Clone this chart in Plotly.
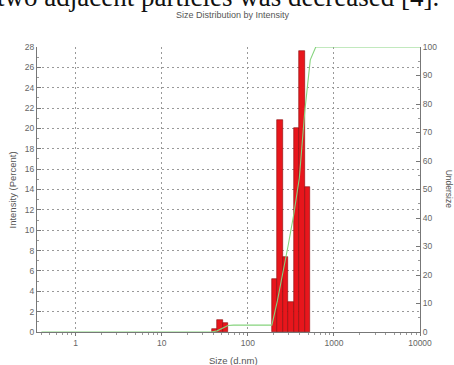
import numpy as np
import plotly.graph_objects as go

# Size classes (d.nm), 70 log-spaced classes as used by the instrument
size_bins = [0.4, 0.4632, 0.5365, 0.6213, 0.7195, 0.8332, 0.9649, 1.117, 1.294, 1.499,
             1.736, 2.01, 2.328, 2.696, 3.122, 3.615, 4.187, 4.849, 5.615, 6.503,
             7.531, 8.721, 10.1, 11.7, 13.54, 15.69, 18.17, 21.04, 24.36, 28.21,
             32.67, 37.84, 43.82, 50.75, 58.77, 68.06, 78.82, 91.28, 105.7, 122.4,
             141.8, 164.2, 190.1, 220.2, 255.0, 295.3, 342.0, 396.1, 458.7, 531.2,
             615.1, 712.4, 825.0, 955.4, 1106, 1281, 1484, 1718, 1990, 2305,
             2669, 3091, 3580, 4145, 4801, 5560, 6439, 7456, 8635, 10000]

# Intensity (Percent) per size class
intensity = [0] * 31 + [0.25, 1.2, 0.9] + [0] * 8 + \
            [5.2, 20.8, 7.4, 2.9, 20.0, 27.6, 14.2] + [0] * 21

# Undersize (cumulative %) per size class
undersize = [0] * 32 + [0.4, 1.4, 2.3] + [2.4] * 8 + \
            [10.9, 20.5, 30.7, 41.4, 54.0, 77.5, 95.5] + [100] * 20

y_ticks = list(range(0, 29, 2))
y2_ticks = list(range(0, 101, 10))
x_ticks = [1, 10, 100, 1000, 10000]
x_ticklabels = ["1", "10", "100", "1000", "10000"]

sizes = np.array(size_bins)
inten = np.array(intensity, dtype=float)
widths = np.append(np.diff(sizes), 0)
mask = inten > 0

fig = go.Figure()
fig.add_trace(go.Bar(
    x=sizes[mask], y=inten[mask], width=widths[mask], offset=0,
    marker=dict(color="#e8161c", line=dict(color="#8a0a0a", width=0.6)),
    showlegend=False,
))
fig.add_trace(go.Scatter(
    x=size_bins, y=undersize, yaxis="y2", mode="lines",
    line=dict(color="#86d47e", width=1.1), showlegend=False,
))

minor_x = [d * 10 ** e for e in range(-1, 4) for d in range(2, 10)
           if 0.35 < d * 10 ** e < 10000]

tick_font = dict(family="Liberation Sans, Arial, sans-serif", size=8.5, color="#666")
grid_dash = "2px,3px"

fig.update_layout(
    width=454, height=365,
    margin=dict(l=37, r=34, t=47, b=33),
    paper_bgcolor="white", plot_bgcolor="white",
    bargap=0,
    font=tick_font,
    xaxis=dict(
        type="log", range=[-0.45, 4.0],
        tickvals=x_ticks, ticktext=x_ticklabels,
        showgrid=True, gridcolor="#999", griddash=grid_dash, gridwidth=1,
        showline=True, linecolor="#777", linewidth=1,
        ticks="outside", ticklen=3, tickcolor="#777",
        minor=dict(tickvals=minor_x, ticks="outside", ticklen=2, tickcolor="#999", showgrid=False),
        zeroline=False, tickfont=tick_font,
    ),
    yaxis=dict(
        range=[0, 28], tickvals=y_ticks,
        showgrid=True, gridcolor="#999", griddash=grid_dash, gridwidth=1,
        showline=True, linecolor="#777", linewidth=1,
        ticks="inside", ticklen=4, tickcolor="#777",
        minor=dict(dtick=1, ticks="inside", ticklen=2, tickcolor="#999", showgrid=False),
        zeroline=False, tickfont=tick_font,
    ),
    yaxis2=dict(
        range=[0, 100], tickvals=y2_ticks, overlaying="y", side="right",
        showgrid=False, showline=True, linecolor="#777", linewidth=1,
        ticks="inside", ticklen=4, tickcolor="#777",
        minor=dict(dtick=5, ticks="inside", ticklen=2, tickcolor="#999"),
        zeroline=False, tickfont=tick_font,
    ),
    annotations=[
        dict(text="two adjacent particles was decreased [4].", xref="paper", yref="paper",
             x=0.4726, y=1.115, xanchor="center", yanchor="bottom", showarrow=False,
             font=dict(family="Liberation Serif, Times New Roman, serif", size=27, color="#111")),
        dict(text="Size Distribution by Intensity", xref="paper", yref="paper",
             x=0.512, y=1.111, xanchor="center", yanchor="middle", showarrow=False,
             font=dict(size=9, color="#555")),
        dict(text="Intensity (Percent)", xref="paper", yref="paper",
             x=-0.0627, y=0.5, textangle=-90, xanchor="center", yanchor="middle",
             showarrow=False, font=dict(size=9.5, color="#555")),
        dict(text="Undersize", xref="paper", yref="paper",
             x=1.078, y=0.5, textangle=90, xanchor="center", yanchor="middle",
             showarrow=False, font=dict(size=8.5, color="#555")),
        dict(text="Size (d.nm)", xref="paper", yref="paper",
             x=0.512, y=-0.1006, xanchor="center", yanchor="middle",
             showarrow=False, font=dict(size=9.5, color="#555")),
    ],
)

fig.write_html("out.html", config={"displayModeBar": False},
               post_script="document.body.style.margin='0';")
